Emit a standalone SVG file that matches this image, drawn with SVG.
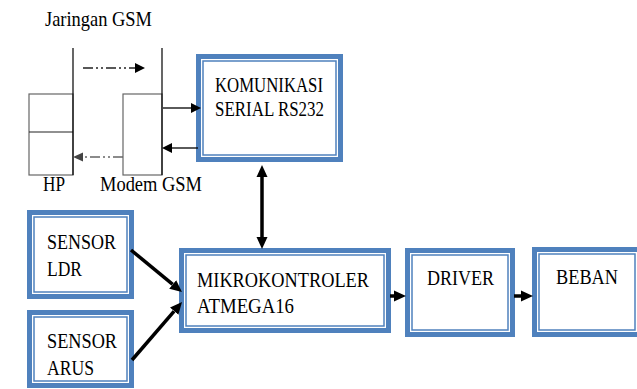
<svg xmlns="http://www.w3.org/2000/svg" width="637" height="389" viewBox="0 0 637 389" font-family="'Liberation Serif', 'Times New Roman', 'DejaVu Serif', serif">
<style>
.outer{fill:#fff;stroke:#4F81BD;stroke-width:5}
.inner{fill:none;stroke:#4F81BD;stroke-width:1.5}
text{font-family:'Liberation Serif','Times New Roman','DejaVu Serif',serif;font-size:22px;fill:#000}
.thick{stroke:#000;stroke-width:3.5;fill:none}
.thin{stroke:#000;stroke-width:1.3;fill:none}
.dash{stroke:#222;stroke-width:1.3;fill:none;stroke-dasharray:10 3 2 3 2 3}
.dashg{stroke:#666;stroke-width:1.3;fill:none;stroke-dasharray:10 3 2 3 2 3}
.gbox{fill:#fff;stroke:#666;stroke-width:1.2}
</style>
<defs>
<marker id="big" markerUnits="userSpaceOnUse" markerWidth="12" markerHeight="12" refX="0" refY="5.5" orient="auto-start-reverse" viewBox="0 0 12 11">
<path d="M0,0 L12,5.5 L0,11 z" fill="#000"/>
</marker>
<marker id="small" markerUnits="userSpaceOnUse" markerWidth="10" markerHeight="10" refX="0" refY="4.5" orient="auto" viewBox="0 0 9 9">
<path d="M0,0 L9,4.5 L0,9 z" fill="#000"/>
</marker>
<marker id="smallg" markerUnits="userSpaceOnUse" markerWidth="10" markerHeight="10" refX="0" refY="4" orient="auto" viewBox="0 0 9 8">
<path d="M0,0 L9,4 L0,8 z" fill="#444"/>
</marker>
</defs>

<g id="jaringan">
<text x="45" y="26" textLength="107" lengthAdjust="spacingAndGlyphs">Jaringan GSM</text>
</g>

<g id="hp">
<rect class="gbox" x="29" y="94" width="44" height="81"/>
<line x1="29" y1="132" x2="73" y2="132" stroke="#222" stroke-width="1.2"/>
<line x1="73" y1="48" x2="73" y2="175" stroke="#000" stroke-width="1.2"/>
<text x="43" y="191" textLength="22" lengthAdjust="spacingAndGlyphs">HP</text>
</g>

<g id="modem">
<rect class="gbox" x="123" y="94" width="39" height="81"/>
<line x1="162" y1="48" x2="162" y2="175" stroke="#000" stroke-width="1.2"/>
<text x="100" y="191" textLength="102" lengthAdjust="spacingAndGlyphs">Modem GSM</text>
</g>

<g id="komunikasi">
<rect class="outer" x="198.5" y="56.5" width="142" height="103"/>
<rect class="inner" x="203" y="61" width="133" height="94"/>
<text x="215" y="92" font-size="21" textLength="108" lengthAdjust="spacingAndGlyphs">KOMUNIKASI</text>
<text x="215" y="116" font-size="21" textLength="109" lengthAdjust="spacingAndGlyphs">SERIAL RS232</text>
</g>

<g id="sensor-ldr">
<rect class="outer" x="29.5" y="212.5" width="102" height="84"/>
<rect class="inner" x="34" y="217" width="93" height="75"/>
<text x="47" y="249" textLength="69" lengthAdjust="spacingAndGlyphs">SENSOR</text>
<text x="47" y="276" textLength="35" lengthAdjust="spacingAndGlyphs">LDR</text>
</g>

<g id="sensor-arus">
<rect class="outer" x="29.5" y="312.5" width="102" height="73"/>
<rect class="inner" x="34" y="317" width="93" height="64"/>
<text x="47" y="348" textLength="70" lengthAdjust="spacingAndGlyphs">SENSOR</text>
<text x="47" y="375" textLength="47" lengthAdjust="spacingAndGlyphs">ARUS</text>
</g>

<g id="mikrokontroler">
<rect class="outer" x="181.5" y="250.5" width="207" height="80"/>
<rect class="inner" x="186" y="255" width="198" height="71"/>
<text x="197" y="287" textLength="172" lengthAdjust="spacingAndGlyphs">MIKROKONTROLER</text>
<text x="197" y="313" textLength="97" lengthAdjust="spacingAndGlyphs">ATMEGA16</text>
</g>

<g id="driver">
<rect class="outer" x="407.5" y="250.5" width="105" height="84"/>
<rect class="inner" x="412" y="255" width="96" height="75"/>
<text x="427" y="285" textLength="67" lengthAdjust="spacingAndGlyphs">DRIVER</text>
</g>

<g id="beban">
<rect class="outer" x="534.5" y="249.5" width="105" height="85"/>
<rect class="inner" x="539" y="254" width="96" height="76"/>
<text x="556" y="284" textLength="62" lengthAdjust="spacingAndGlyphs">BEBAN</text>
</g>

<g id="connectors">
<line class="dash" x1="83" y1="68" x2="135" y2="68" marker-end="url(#small)"/>
<line class="dashg" x1="123" y1="157" x2="83" y2="157" marker-end="url(#smallg)"/>
<line class="thin" x1="163" y1="108" x2="191" y2="108" marker-end="url(#small)"/>
<line class="thin" x1="198" y1="148" x2="172" y2="148" marker-end="url(#small)"/>
<line class="thick" x1="262" y1="177" x2="262" y2="237" marker-start="url(#big)" marker-end="url(#big)"/>
<line class="thick" x1="131" y1="250" x2="172.7" y2="284.4" marker-end="url(#big)"/>
<line class="thick" x1="132" y1="360" x2="174.2" y2="311.1" marker-end="url(#big)"/>
<line class="thick" x1="390" y1="296" x2="394" y2="296" marker-end="url(#big)"/>
<line class="thick" x1="514" y1="296" x2="521" y2="296" marker-end="url(#big)"/>
</g>
</svg>
